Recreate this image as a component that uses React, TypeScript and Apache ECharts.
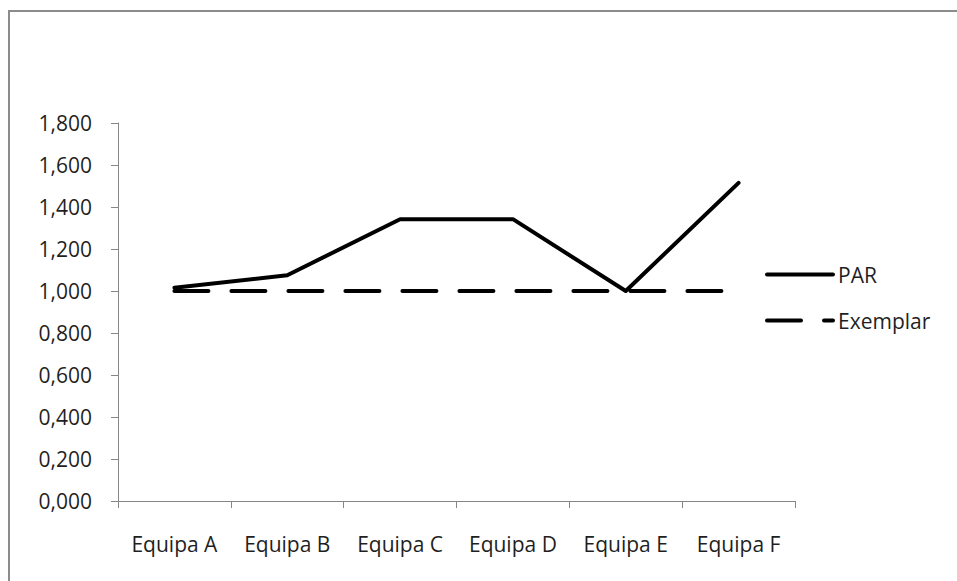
import React, { useEffect, useRef } from "react";
import * as echarts from "echarts";

const categories = ["Equipa A", "Equipa B", "Equipa C", "Equipa D", "Equipa E", "Equipa F"];
const parValues = [1.015, 1.075, 1.342, 1.342, 1.0, 1.515];
const exemplarValues = [1.0, 1.0, 1.0, 1.0, 1.0, 1.0];
const seriesNames = ["PAR", "Exemplar"];

const FONT = "'Open Sans', 'Noto Sans', sans-serif";
const FONT_SIZE = 21;
const TEXT_COLOR = "#1f1f1f";
const AXIS_GREY = "#868686";
const DASH = [34, 23];

export default function App() {
  const ref = useRef<HTMLDivElement>(null);

  useEffect(() => {
    if (!ref.current) return;
    const chart = echarts.init(ref.current, null, { renderer: "svg" });
    chart.setOption({
      animation: false,
      backgroundColor: "#ffffff",
      textStyle: { fontFamily: FONT },
      graphic: [
        {
          type: "rect",
          shape: { x: 9, y: 11, width: 1000, height: 620 },
          style: { fill: "none", stroke: "#8c8c8c", lineWidth: 2 },
          silent: true,
        },
      ],
      grid: { left: 118, top: 123, right: 162, bottom: 80, containLabel: false },
      legend: {
        orient: "vertical",
        left: 765,
        top: 264,
        padding: 0,
        itemWidth: 66,
        itemHeight: 22,
        itemGap: 25,
        itemStyle: { opacity: 0 },
        textStyle: { fontFamily: FONT, fontSize: FONT_SIZE, color: TEXT_COLOR },
        data: [
          { name: seriesNames[0], lineStyle: { color: "#000", width: 4, type: "solid", opacity: 1, cap: "round" } },
          { name: seriesNames[1], lineStyle: { color: "#000", width: 4, type: DASH, opacity: 1, cap: "round" } },
        ],
      },
      xAxis: {
        type: "category",
        data: categories,
        boundaryGap: true,
        axisLine: { lineStyle: { color: AXIS_GREY, width: 1 } },
        axisTick: { show: true, length: 7, lineStyle: { color: AXIS_GREY } },
        axisLabel: {
          interval: 0,
          hideOverlap: false,
          margin: 32,
          fontFamily: FONT,
          fontSize: FONT_SIZE,
          color: TEXT_COLOR,
        },
        splitLine: { show: false },
      },
      yAxis: {
        type: "value",
        min: 0,
        max: 1.8,
        interval: 0.2,
        axisLine: { show: true, lineStyle: { color: AXIS_GREY, width: 1 } },
        axisTick: { show: true, length: 7, lineStyle: { color: AXIS_GREY } },
        axisLabel: {
          margin: 26,
          fontFamily: FONT,
          fontSize: FONT_SIZE,
          color: TEXT_COLOR,
          formatter: (v: number) => v.toFixed(3).replace(".", ","),
        },
        splitLine: { show: false },
      },
      series: [
        {
          name: seriesNames[0],
          type: "line",
          data: parValues,
          symbol: "none",
          lineStyle: { color: "#000000", width: 4, cap: "round", join: "round" },
          itemStyle: { color: "#000000" },
          z: 3,
        },
        {
          name: seriesNames[1],
          type: "line",
          data: exemplarValues,
          symbol: "none",
          lineStyle: { color: "#000000", width: 4, type: DASH, cap: "round" },
          itemStyle: { color: "#000000" },
          z: 2,
        },
      ],
    });
    return () => chart.dispose();
  }, []);

  return (
    <div
      ref={ref}
      style={{ position: "fixed", left: 0, top: 0, width: 957, height: 581, background: "#fff" }}
    />
  );
}
